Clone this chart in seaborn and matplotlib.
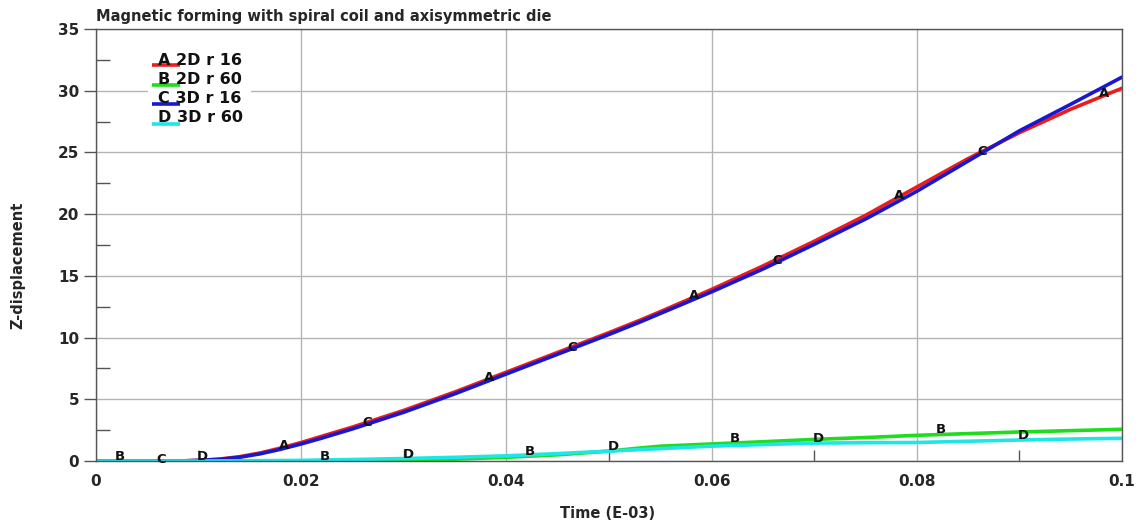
import numpy as np
import pandas as pd
import matplotlib
matplotlib.use("Agg")
import matplotlib.pyplot as plt
import seaborn as sns
from matplotlib.patches import Rectangle

# ---------------- data ----------------
time = [0.0, 0.005, 0.008, 0.010, 0.012, 0.014, 0.016, 0.018, 0.020, 0.022, 0.025,
        0.030, 0.035, 0.040, 0.045, 0.050, 0.053, 0.055, 0.060, 0.065, 0.070,
        0.075, 0.080, 0.085, 0.090, 0.095, 0.100]
a_2d_r16 = [0.0, 0.0, 0.0, 0.05, 0.15, 0.35, 0.65, 1.05, 1.5, 2.0, 2.75,
            4.1, 5.6, 7.2, 8.8, 10.4, 11.4, 12.1, 13.9, 15.8, 17.8,
            19.9, 22.2, 24.5, 26.6, 28.5, 30.2]
b_2d_r60 = [0.0, 0.0, 0.0, 0.0, 0.0, 0.0, 0.0, 0.0, 0.0, 0.0, 0.0,
            0.05, 0.15, 0.3, 0.5, 0.8, 1.05, 1.2, 1.38, 1.56, 1.75,
            1.9, 2.08, 2.22, 2.35, 2.46, 2.57]
c_3d_r16 = [0.0, 0.0, 0.0, 0.05, 0.13, 0.3, 0.58, 0.95, 1.38, 1.85, 2.6,
            3.95, 5.45, 7.05, 8.65, 10.25, 11.25, 11.95, 13.7, 15.55, 17.55,
            19.6, 21.85, 24.3, 26.75, 28.9, 31.1]
d_3d_r60 = [0.0, 0.0, 0.0, 0.0, 0.01, 0.02, 0.03, 0.04, 0.05, 0.08, 0.12,
            0.2, 0.3, 0.42, 0.6, 0.8, 0.92, 1.0, 1.2, 1.33, 1.45,
            1.48, 1.5, 1.6, 1.7, 1.78, 1.84]

letters = ["A", "B", "C", "D"]
names = ["2D r 16", "2D r 60", "3D r 16", "3D r 60"]
series = [a_2d_r16, b_2d_r60, c_3d_r16, d_3d_r60]
label_start = [0.0183, 0.0023, 0.0064, 0.0104]   # first marker letter for each curve
label_step = 0.02

xticks = [0, 0.02, 0.04, 0.06, 0.08, 0.1]
xticklabels = ["0", "0.02", "0.04", "0.06", "0.08", "0.1"]
yticks = [0, 5, 10, 15, 20, 25, 30, 35]

title = "Magnetic forming with spiral coil and axisymmetric die"
xlabel = "Time (E-03)"
ylabel = "Z-displacement"

colors = ["#ec1c1c", "#1fdc1f", "#1818d0", "#1fe6e6"]

# ---------------- plot ----------------
sns.set_style("white")
plt.rcParams["font.family"] = ["DejaVu Sans"]

fig = plt.figure(figsize=(11.44, 5.28), dpi=100)
ax = fig.add_axes([96 / 1144, 67 / 528, 1026 / 1144, 432 / 528])

rows = []
for letter, name, vals in zip(letters, names, series):
    for t, v in zip(time, vals):
        rows.append({"time": t, "z": v, "curve": f"{letter} {name}"})
df = pd.DataFrame(rows)
hue_order = [f"{l} {n}" for l, n in zip(letters, names)]

sns.lineplot(data=df, x="time", y="z", hue="curve", hue_order=hue_order,
             palette=colors, linewidth=2.6, sort=False, legend=False, ax=ax,
             zorder=2)

# curve letters
offsets = [1.0, 3.5, 1.0, 3.0]
for letter, vals, start, off in zip(letters, series, label_start, offsets):
    xs = np.arange(start, 0.1, label_step)
    for xv in xs:
        yv = np.interp(xv, time, vals)
        ax.annotate(letter, (xv, yv), xytext=(0, off), textcoords="offset points",
                    ha="center", va="center", fontsize=9.5, fontweight="bold",
                    color="#111111", zorder=5)

ax.set_xlim(0, 0.1)
ax.set_ylim(0, 35)
ax.set_xticks(xticks)
ax.set_xticklabels(xticklabels)
ax.set_xticks(np.arange(0.01, 0.1, 0.02), minor=True)
ax.set_yticks(yticks)
ax.set_yticks(np.arange(2.5, 35, 5), minor=True)
ax.set_xlabel("")
ax.set_ylabel("")

ax.grid(True, which="major", color="#b4b4b4", linewidth=1.0)
ax.set_axisbelow(True)
ax.tick_params(axis="x", which="both", bottom=True, top=False)
ax.tick_params(axis="y", which="both", left=True, right=False)
ax.tick_params(axis="x", which="major", length=0, pad=9, labelsize=11)
ax.tick_params(axis="x", which="minor", direction="in", length=8, width=1,
               color="#555555")
ax.tick_params(axis="y", which="major", direction="out", length=9, width=1,
               pad=3, labelsize=11, color="#555555")
ax.tick_params(axis="y", which="minor", direction="in", length=10, width=1,
               color="#555555")
for lab in ax.get_xticklabels() + ax.get_yticklabels():
    lab.set_fontweight("bold")
for sp in ax.spines.values():
    sp.set_color("#555555")
    sp.set_linewidth(1.0)

# legend block
ax.add_patch(Rectangle((0.0507, 0.771), 0.1, 0.18, transform=ax.transAxes,
                       facecolor="white", edgecolor="none", zorder=1.5))
text_y = [0.928, 0.884, 0.840, 0.796]
line_y = [0.917, 0.871, 0.826, 0.781]
for letter, name, c, ty, ly in zip(letters, names, colors, text_y, line_y):
    ax.plot([0.0546, 0.0819], [ly, ly], transform=ax.transAxes, color=c,
            linewidth=2.6, zorder=3, solid_capstyle="butt")
    ax.text(0.0604, ty, f"{letter} {name}", transform=ax.transAxes,
            ha="left", va="center", fontsize=11.5, fontweight="bold",
            color="#111111", zorder=4)

fig.text(96 / 1144, 1 - 21 / 528, title, ha="left", va="baseline",
         fontsize=10.5, fontweight="bold")
fig.text(608 / 1144, 1 - 513 / 528, xlabel, ha="center", va="center",
         fontsize=10.5, fontweight="bold")
fig.text(18 / 1144, 1 - 265 / 528, ylabel, ha="center", va="center",
         rotation=90, fontsize=10.5, fontweight="bold")

fig.savefig("out.png", dpi=100)
